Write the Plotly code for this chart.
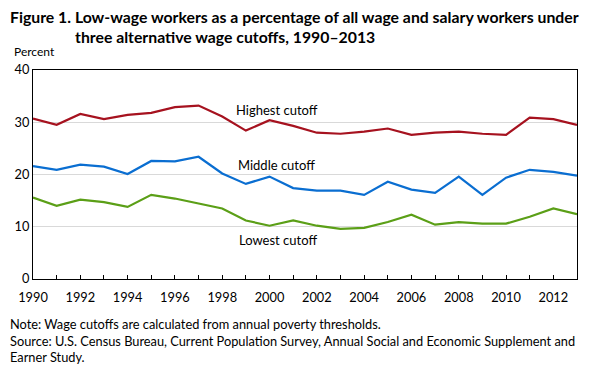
import plotly.graph_objects as go

years = list(range(1990, 2014))
highest = [30.7, 29.5, 31.6, 30.6, 31.4, 31.8, 32.9, 33.2, 31.1, 28.4, 30.4, 29.3,
           28.0, 27.8, 28.2, 28.8, 27.6, 28.0, 28.2, 27.8, 27.6, 30.9, 30.6, 29.5]
middle = [21.6, 20.9, 21.9, 21.5, 20.1, 22.6, 22.5, 23.4, 20.2, 18.2, 19.6, 17.4,
          16.9, 16.9, 16.1, 18.6, 17.1, 16.5, 19.6, 16.1, 19.4, 20.9, 20.5, 19.8]
lowest = [15.6, 14.0, 15.2, 14.7, 13.8, 16.1, 15.4, 14.4, 13.5, 11.2, 10.2, 11.2,
          10.2, 9.6, 9.8, 10.9, 12.3, 10.4, 10.9, 10.6, 10.6, 11.9, 13.5, 12.4]
series_names = ["Highest cutoff", "Middle cutoff", "Lowest cutoff"]
colors = ["#A6121F", "#0A6ED1", "#5B9F17"]
x_tick_vals = list(range(1990, 2013, 2))
y_tick_vals = [0, 10, 20, 30, 40]

FONT = "Lato, Open Sans, sans-serif"

fig = go.Figure()
for name, vals, col in zip(series_names, [highest, middle, lowest], colors):
    fig.add_trace(go.Scatter(x=years, y=vals, mode="lines", name=name,
                             line=dict(color=col, width=2.2), showlegend=False))

label_pos = [(2000.3, 32.3), (2000.3, 21.8), (2000.35, 7.5)]
for name, (lx, ly) in zip(series_names, label_pos):
    fig.add_annotation(x=lx, y=ly, text=name, showarrow=False,
                       font=dict(family=FONT, size=13, color="#000000"))

# plot area: x 33..577, y 70..279 (height 209, width 544)
fig.add_annotation(xref="paper", yref="paper", x=-21 / 544, y=(279 - 51) / 209,
                   xanchor="left", yanchor="middle", text="Percent", showarrow=False,
                   font=dict(family=FONT, size=12, color="#000000"))

fig.add_annotation(xref="paper", yref="paper", x=-25 / 544, y=(279 - 16) / 209,
                   xanchor="left", yanchor="middle", align="left",
                   text="<b>Figure 1. Low-wage workers as a percentage of all wage and salary workers under</b>",
                   showarrow=False, font=dict(family=FONT, size=15.8, color="#000000"))
fig.add_annotation(xref="paper", yref="paper", x=40 / 544, y=(279 - 36) / 209,
                   xanchor="left", yanchor="middle", align="left",
                   text="<b>three alternative wage cutoffs, 1990–2013</b>",
                   showarrow=False, font=dict(family=FONT, size=15.8, color="#000000"))

notes = ("Note: Wage cutoffs are calculated from annual poverty thresholds.<br>"
         "Source: U.S. Census Bureau, Current Population Survey, Annual Social and Economic Supplement and<br>"
         "Earner Study.")
fig.add_annotation(xref="paper", yref="paper", x=-25 / 544, y=(279 - 314) / 209,
                   xanchor="left", yanchor="top", align="left", text=notes, showarrow=False,
                   font=dict(family=FONT, size=12.8, color="#000000"))

fig.update_layout(
    width=599, height=371,
    margin=dict(l=33, r=22, t=70, b=92),
    paper_bgcolor="white", plot_bgcolor="white",
    font=dict(family=FONT, size=12, color="#000000"),
)
fig.update_xaxes(range=[1990, 2013], tickvals=x_tick_vals, ticks="inside",
                 ticklen=4, tickcolor="#000000", showline=True, linecolor="#000000",
                 linewidth=1, mirror=True, showgrid=False, zeroline=False,
                 minor=dict(dtick=1, ticks="inside", ticklen=4, tickcolor="#000000"),
                 ticklabelstandoff=7,
                 tickfont=dict(family=FONT, size=12.8))
fig.update_yaxes(range=[0, 40], tickvals=y_tick_vals, showline=True,
                 linecolor="#000000", linewidth=1, mirror=True, showgrid=True,
                 gridcolor="#D9D9D9", gridwidth=1, zeroline=False, ticks="",
                 tickfont=dict(family=FONT, size=12.8))

fig.write_html("out.html", config={"displayModeBar": False},
               post_script="document.body.style.margin='0';document.body.style.overflow='hidden';")
